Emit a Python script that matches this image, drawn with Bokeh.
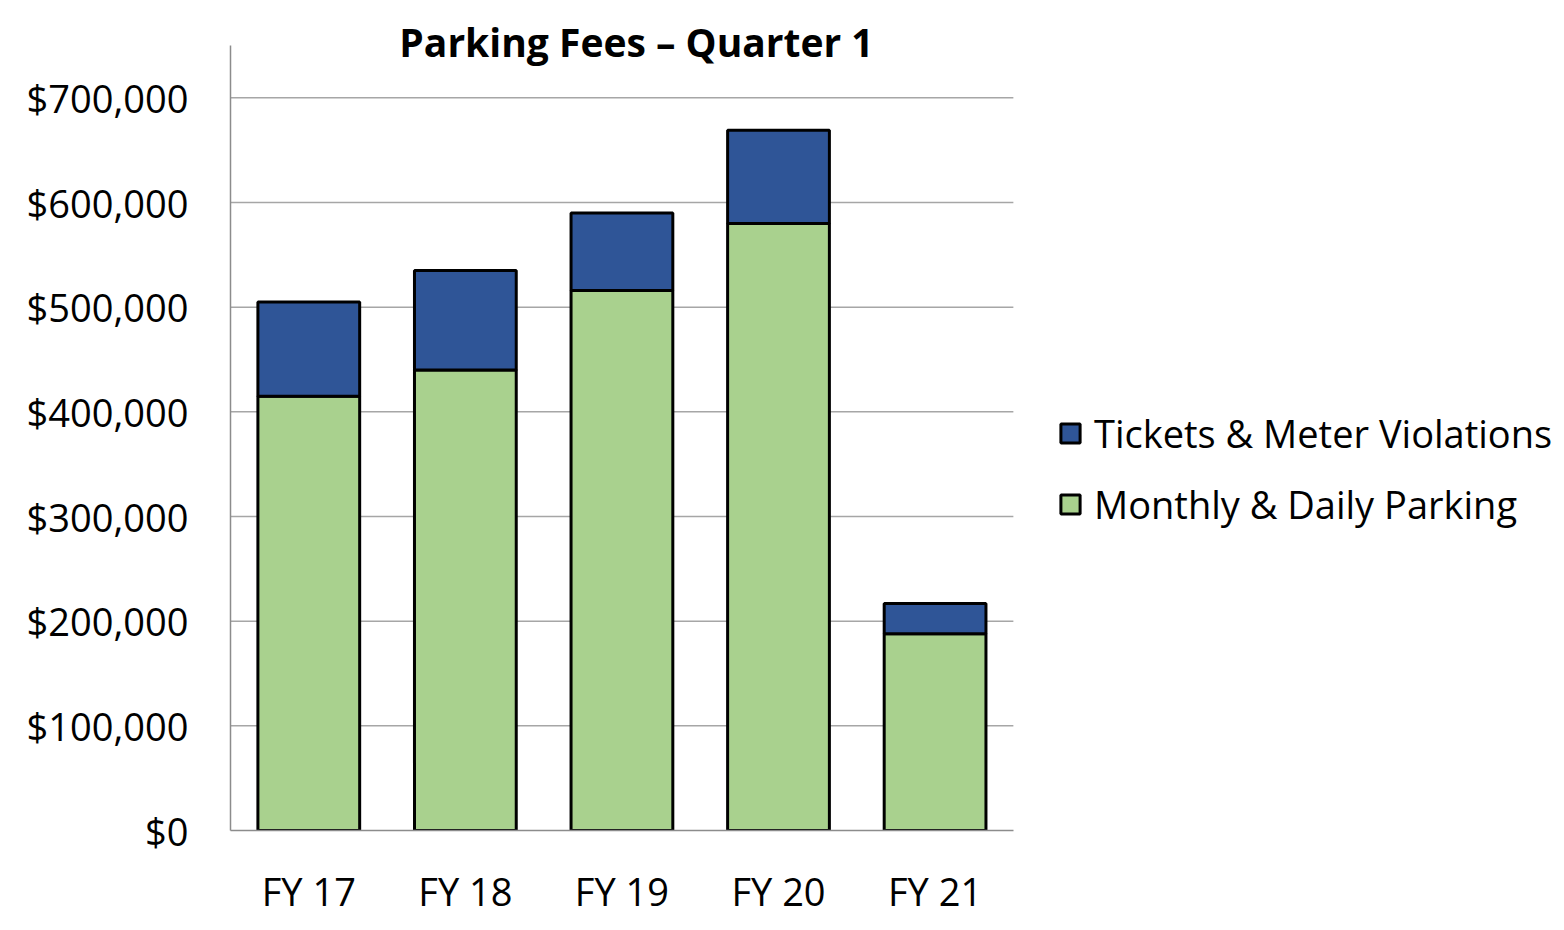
from bokeh.plotting import figure
from bokeh.models import (ColumnDataSource, Legend, LegendItem, Label,
                          NumeralTickFormatter, FixedTicker, Range1d)
from bokeh.embed import file_html
from bokeh.resources import INLINE

# ---- data ----
years = ["FY 17", "FY 18", "FY 19", "FY 20", "FY 21"]
monthly_daily = [415000, 440000, 516000, 580000, 188000]
tickets_meter = [90000, 95000, 74000, 89000, 29000]
y_ticks = [0, 100000, 200000, 300000, 400000, 500000, 600000, 700000]
series_names = ["Monthly & Daily Parking", "Tickets & Meter Violations"]
title_text = "Parking Fees \u2013 Quarter 1"

GREEN = "#A9D18E"
BLUE = "#2F5597"
GRID = "#a6a6a6"
FONT = "Open Sans"

xs = list(range(len(years)))
src = ColumnDataSource(dict(x=xs, monthly=monthly_daily, tickets=tickets_meter))

# The frame covers the whole figure (title and legend live inside it);
# axis lines are bounded to the category / value extent.
p = figure(x_range=Range1d(-0.5, 8.02), y_range=Range1d(0, 793000),
           width=1564, height=930, output_backend="svg", toolbar_location=None,
           min_border_left=230, min_border_right=0, min_border_top=0,
           min_border_bottom=100)

p.outline_line_color = None
p.background_fill_color = "white"
p.border_fill_color = "white"
p.xgrid.visible = False
p.ygrid.visible = False

# horizontal gridlines spanning the category area only
grid_src = ColumnDataSource(dict(y=y_ticks[1:],
                                 x0=[xs[0] - 0.5] * (len(y_ticks) - 1),
                                 x1=[xs[-1] + 0.5] * (len(y_ticks) - 1)))
p.segment(x0="x0", x1="x1", y0="y", y1="y", source=grid_src,
          line_color=GRID, line_width=1.5)

rs = p.vbar_stack(["monthly", "tickets"], x="x", width=0.65, source=src,
                  fill_color=[GREEN, BLUE], line_color="black", line_width=3)

p.yaxis.ticker = FixedTicker(ticks=y_ticks)
p.yaxis.formatter = NumeralTickFormatter(format="$0,0")
p.yaxis.bounds = (0, 750000)
p.xaxis.ticker = FixedTicker(ticks=xs)
p.xaxis.major_label_overrides = {i: y for i, y in zip(xs, years)}
p.xaxis.bounds = (xs[0] - 0.5, xs[-1] + 0.5)
for ax in (p.xaxis[0], p.yaxis[0]):
    ax.axis_line_color = "#8c8c8c"
    ax.axis_line_width = 1.5
    ax.major_tick_line_color = None
    ax.minor_tick_line_color = None
    ax.major_label_text_font = FONT
    ax.major_label_text_font_size = "38px"
    ax.major_label_text_color = "black"
p.yaxis.major_label_standoff = 36
p.xaxis.major_label_standoff = 28

title = Label(x=406, y=789, x_units="screen", y_units="screen", text=title_text,
              text_align="center", text_baseline="middle", text_font=FONT,
              text_font_style="bold", text_font_size="39px", text_color="black")
p.add_layout(title)

legend = Legend(items=[LegendItem(label=series_names[1], renderers=[rs[1]]),
                       LegendItem(label=series_names[0], renderers=[rs[0]])],
                location=(828, 300), glyph_width=24, glyph_height=24,
                label_text_font=FONT, label_text_font_size="38px",
                label_text_color="black",
                label_standoff=12, spacing=19, padding=0, margin=0,
                border_line_color=None, background_fill_alpha=0)
p.add_layout(legend, "center")

open("out.html", "w").write(file_html(p, INLINE))
